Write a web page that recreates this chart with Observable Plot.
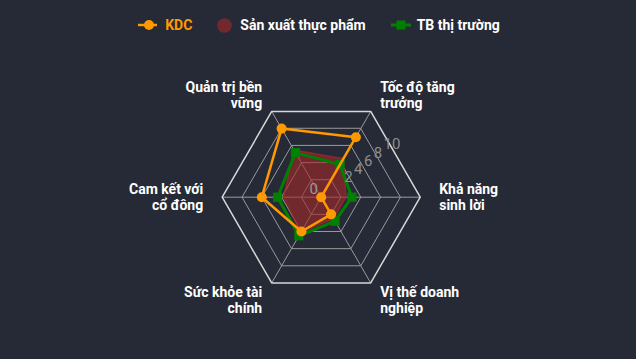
<!DOCTYPE html>
<html><head><meta charset="utf-8">
<script src="https://cdn.jsdelivr.net/npm/d3@7"></script>
<script src="https://cdn.jsdelivr.net/npm/@observablehq/plot@0.6"></script>
<style>
html,body{margin:0;padding:0;background:#262a36;}
body{width:636px;height:359px;overflow:hidden;font-family:Roboto,"Noto Sans",sans-serif;}
#legend{height:50px;display:flex;justify-content:center;align-items:center;gap:25px;font-weight:bold;font-size:14px;color:#fff;padding-left:2px;}
.item{display:flex;align-items:center;gap:8px;}
.item svg{display:block;}
</style></head><body>
<div id="legend"></div>
<div id="chart"></div>
<script>
// ---- data ----
const categories = ["Tốc độ tăng trưởng","Khả năng sinh lời","Vị thế doanh nghiệp","Sức khỏe tài chính","Cam kết với cổ đông","Quản trị bền vững"];
const categoryLabels = ["Tốc độ tăng\ntrưởng","Khả năng\nsinh lời","Vị thế doanh\nnghiệp","Sức khỏe tài\nchính","Cam kết với\ncổ đông","Quản trị bền\nvững"];
const kdcValues = [7, 0, 2, 4, 6, 8];
const sectorValues = [4.5, 2.5, 2.5, 4.1, 3.8, 5.5];
const marketValues = [3.8, 3.1, 2.8, 4.5, 4.4, 5.2];
const seriesNames = ["KDC", "Sản xuất thực phẩm", "TB thị trường"];
const tickValues = [0, 2, 4, 6, 8, 10];

// ---- style / layout ----
const colors = {kdc: "#ff9900", sector: "#a52a2a", market: "#008000"};
const W = 636, H = 309, CX = 320.7, CY = 146.7, PX = 9.9;
const maxV = 10;

const ang = i => (60 - i * 60) * Math.PI / 180;
const pt = (v, i) => ({x: v * Math.cos(ang(i)), y: v * Math.sin(ang(i)), i, v});
const series = (vals, name) => vals.map((v, i) => ({...pt(v, i), name, cat: categories[i]}));

const kdc = series(kdcValues, seriesNames[0]);
const sector = series(sectorValues, seriesNames[1]);
const market = series(marketValues, seriesNames[2]);

const rings = tickValues.filter(t => t > 0).flatMap(t => categories.map((c, i) => ({...pt(t, i), ring: t})));
const spokes = categories.map((c, i) => pt(maxV, i));

// ---- legend ----
const legend = document.getElementById("legend");
legend.innerHTML = `
<div class="item"><svg width="19" height="12"><line x1="0" y1="6" x2="19" y2="6" stroke="${colors.kdc}" stroke-width="2.5"/><circle cx="11" cy="6" r="5" fill="${colors.kdc}"/></svg><span style="color:${colors.kdc}">${seriesNames[0]}</span></div>
<div class="item"><svg width="15" height="15"><circle cx="7.5" cy="7.5" r="7.3" fill="${colors.sector}" fill-opacity="0.6"/></svg><span>${seriesNames[1]}</span></div>
<div class="item" style="gap:6px"><svg width="20" height="12"><line x1="0" y1="6" x2="20" y2="6" stroke="${colors.market}" stroke-width="3"/><rect x="5.5" y="1.5" width="9" height="9" fill="${colors.market}"/></svg><span>${seriesNames[2]}</span></div>`;

// ---- axis label marks ----
const labelMarks = categoryLabels.map((lab, i) => {
  const a = ang(i), c = Math.cos(a), s = Math.sin(a);
  const v = pt(maxV, i);
  return Plot.text([lab], {
    x: () => v.x, y: () => v.y, text: d => d,
    textAnchor: c > 0.1 ? "start" : c < -0.1 ? "end" : "middle",
    lineAnchor: s > 0.1 ? "bottom" : s < -0.1 ? "top" : "middle",
    dx: 19 * c, dy: s > 0.1 ? -3 : s < -0.1 ? 3 : 0,
    fill: "#ffffff", fontWeight: "bold", fontSize: 14, lineHeight: 1.15
  });
});

const chart = Plot.plot({
  width: W, height: H, margin: 0,
  x: {domain: [-CX / PX, (W - CX) / PX], axis: null},
  y: {domain: [-(H - CY) / PX, CY / PX], axis: null},
  style: {background: "transparent", fontFamily: "Roboto, 'Noto Sans', sans-serif", overflow: "visible"},
  marks: [
    Plot.link(spokes, {x1: 0, y1: 0, x2: "x", y2: "y", stroke: "#9a9a9a", strokeWidth: 1}),
    Plot.line(rings, {x: "x", y: "y", z: "ring", curve: "linear-closed",
      stroke: d => d.ring === maxV ? "#d8d8d8" : "#9a9a9a", strokeWidth: d => d.ring === maxV ? 1.5 : 1}),
    Plot.line(sector, {x: "x", y: "y", curve: "linear-closed", fill: colors.sector, fillOpacity: 0.6,
      stroke: colors.sector, strokeOpacity: 0.7, strokeWidth: 1.5}),
    Plot.line(market, {x: "x", y: "y", curve: "linear-closed", stroke: colors.market, strokeWidth: 3}),
    Plot.dot(market, {x: "x", y: "y", symbol: "square", r: 5.2, fill: colors.market}),
    Plot.line(kdc, {x: "x", y: "y", curve: "linear-closed", stroke: colors.kdc, strokeWidth: 2.5}),
    Plot.dot(kdc, {x: "x", y: "y", r: 5, fill: colors.kdc}),
    Plot.text(tickValues.filter(t => t > 0), {x: t => (13.3 + 4.9 * t) / PX, y: t => (11.7 + 4.1 * t) / PX, text: d => String(d),
      textAnchor: "start", fill: "#8e8e8e", fontSize: 15}),
    Plot.text(tickValues.filter(t => t === 0), {x: () => 0, y: () => 0, text: d => String(d), dx: -7.4, dy: -7.7,
      fill: "#9a9a9a", fontSize: 15}),
    ...labelMarks
  ]
});
document.getElementById("chart").appendChild(chart);
</script>
</body></html>
